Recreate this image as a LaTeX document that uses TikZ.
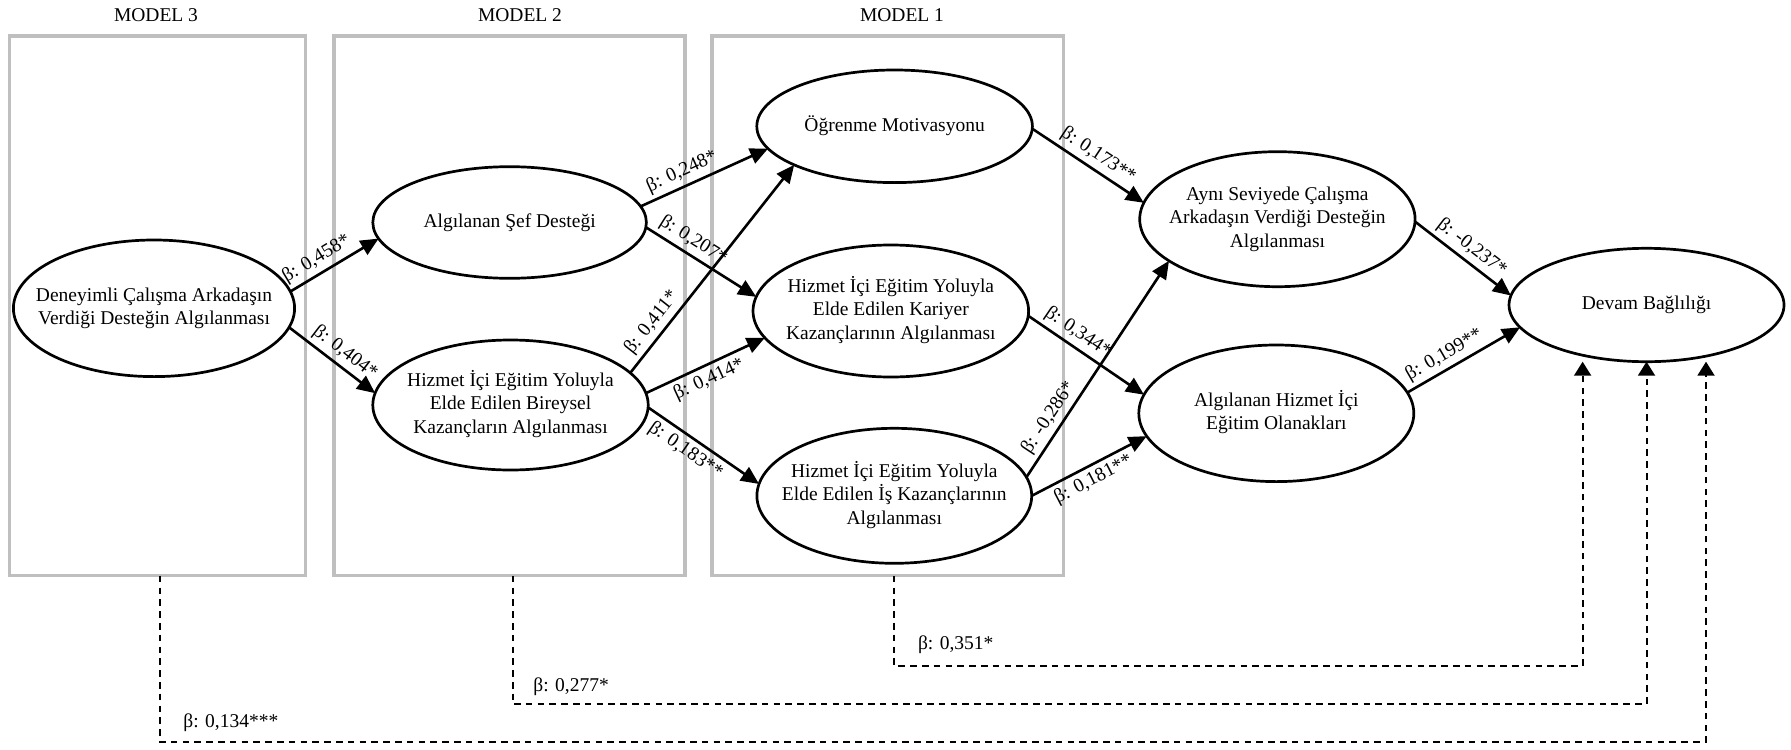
\documentclass[tikz,border=0pt]{standalone}
\usepackage{fontspec}
\setmainfont{Liberation Serif}
\usetikzlibrary{shapes.geometric,arrows.meta}

% centred multi-line text that does not widen the ellipse around it
\newcommand{\nodetext}[1]{\makebox[0pt]{\begin{tabular}{@{}c@{}}#1\end{tabular}}}

\begin{document}
\begin{tikzpicture}[x=0.5pt,y=-0.5pt,
  every node/.style={font=\fontsize{9.75}{11.75}\selectfont},
  construct/.style={draw, ellipse, line width=1.35pt, inner sep=0pt, outer sep=0pt},
  modelbox/.style={draw=black!25, line width=1.65pt, rectangle, inner sep=0pt, outer sep=0pt, minimum height=269.85pt},
  effect/.style={line width=1.3pt, -{Triangle[length=9pt,width=8pt]}},
  coef/.style={sloped, inner sep=2pt},
  totaleffect/.style={line width=1pt, dash pattern=on 3.3pt off 2.6pt, -{Triangle[length=7pt,width=8.5pt]}},
  totalcoef/.style={anchor=west, inner sep=0pt}
]
\useasboundingbox (0,0) rectangle (1791,749);

% model frames and their titles
\node[modelbox, minimum width=148pt]   (m3) at (157.8,305.85) {};
\node[modelbox, minimum width=175.5pt] (m2) at (509.5,305.85) {};
\node[modelbox, minimum width=175.9pt] (m1) at (887.9,305.85) {};
\node (t3) at (156,15) {MODEL 3};
\node (t2) at (520,15) {MODEL 2};
\node (t1) at (902,15) {MODEL 1};

% constructs
\node[construct, minimum width=140.6pt, minimum height=68.3pt] (D) at (154,308.3)
  {\nodetext{Deneyimli Çalışma Arkadaşın\\Verdiği Desteğin Algılanması}};
\node[construct, minimum width=136.8pt, minimum height=55.8pt] (S) at (509.6,222.5)
  {\nodetext{Algılanan Şef Desteği}};
\node[construct, minimum width=137.7pt, minimum height=65pt] (B) at (510.5,405)
  {\nodetext{Hizmet İçi Eğitim Yoluyla\\Elde Edilen Bireysel\\Kazançların Algılanması}};
\node[construct, minimum width=137.8pt, minimum height=56.3pt] (O) at (894.6,126.3)
  {\nodetext{Öğrenme Motivasyonu}};
\node[construct, minimum width=137.8pt, minimum height=66pt] (K) at (890.8,311)
  {\nodetext{Hizmet İçi Eğitim Yoluyla\\Elde Edilen Kariyer\\Kazançlarının Algılanması}};
\node[construct, minimum width=137.4pt, minimum height=67.5pt] (I) at (894.3,495.8)
  {\nodetext{Hizmet İçi Eğitim Yoluyla\\Elde Edilen İş Kazançlarının\\Algılanması}};
\node[construct, minimum width=137.7pt, minimum height=67.5pt] (A) at (1277.4,219.2)
  {\nodetext{Aynı Seviyede Çalışma\\Arkadaşın Verdiği Desteğin\\Algılanması}};
\node[construct, minimum width=137.5pt, minimum height=68.3pt] (H) at (1276.3,413.3)
  {\nodetext{Algılanan Hizmet İçi\\Eğitim Olanakları}};
\node[construct, minimum width=137.5pt, minimum height=56.7pt] (V) at (1646.5,305)
  {\nodetext{Devam Bağlılığı}};

% direct paths
\draw[effect] (D.7)  -- node[coef, above, pos=0.38] {β: 0,458*} (S.187);
\draw[effect] (D.-8) -- node[coef, above, pos=0.55] {β: 0,404*} (B.175);
\draw[effect] (S.7)  -- node[coef, above, pos=0.37] {β: 0,248*} (O.190);
\draw[effect] (S.-2) -- node[coef, above, pos=0.36] {β: 0,207*} (K.174);
\draw[effect] (B.15) -- node[coef, above, pos=0.2]  {β: 0,411*} (O.201);
\draw[effect] (B.5)  -- node[coef, below, pos=0.48] {β: 0,414*} (K.192);
\draw[effect] (B.-1) -- node[coef, below, pos=0.41] {β: 0,183**} (I.175);
\draw[effect] (O.-1) -- node[coef, above, pos=0.52] {β: 0,173**} (A.173);
\draw[effect] (K.-2) -- node[coef, above, pos=0.36] {β: 0,344*} (H.172);
\draw[effect] (I.8)  -- node[coef, above, pos=0.24] {β: -0,286*} (A.201);
\draw[effect] (I.0)  -- node[coef, below, pos=0.48] {β: 0,181**} (H.190);
\draw[effect] (A.-1) -- node[coef, above, pos=0.5]  {β: -0,237*} (V.176);
\draw[effect] (H.9)  -- node[coef, above, pos=0.39] {β: 0,199**} (V.190);

% total effects of each model on the outcome
\coordinate (e3) at ([xshift=29.75pt]V.south);
\coordinate (e2) at (V.south);
\coordinate (e1) at ([xshift=-31.95pt]V.south);
\draw[totaleffect] ([xshift=1pt]m3.south)   -- ++(0,166)   -| (e3);
\draw[totaleffect] ([xshift=1.5pt]m2.south) -- ++(0,128.3) -| (e2);
\draw[totaleffect] ([xshift=3pt]m1.south)   -- ++(0,90)    -| (e1);
\node[totalcoef] (c3) at (183,723)   {β: 0,134***};
\node[totalcoef] (c2) at (533,686.7) {β: 0,277*};
\node[totalcoef] (c1) at (917.6,645) {β: 0,351*};
\end{tikzpicture}
\end{document}
